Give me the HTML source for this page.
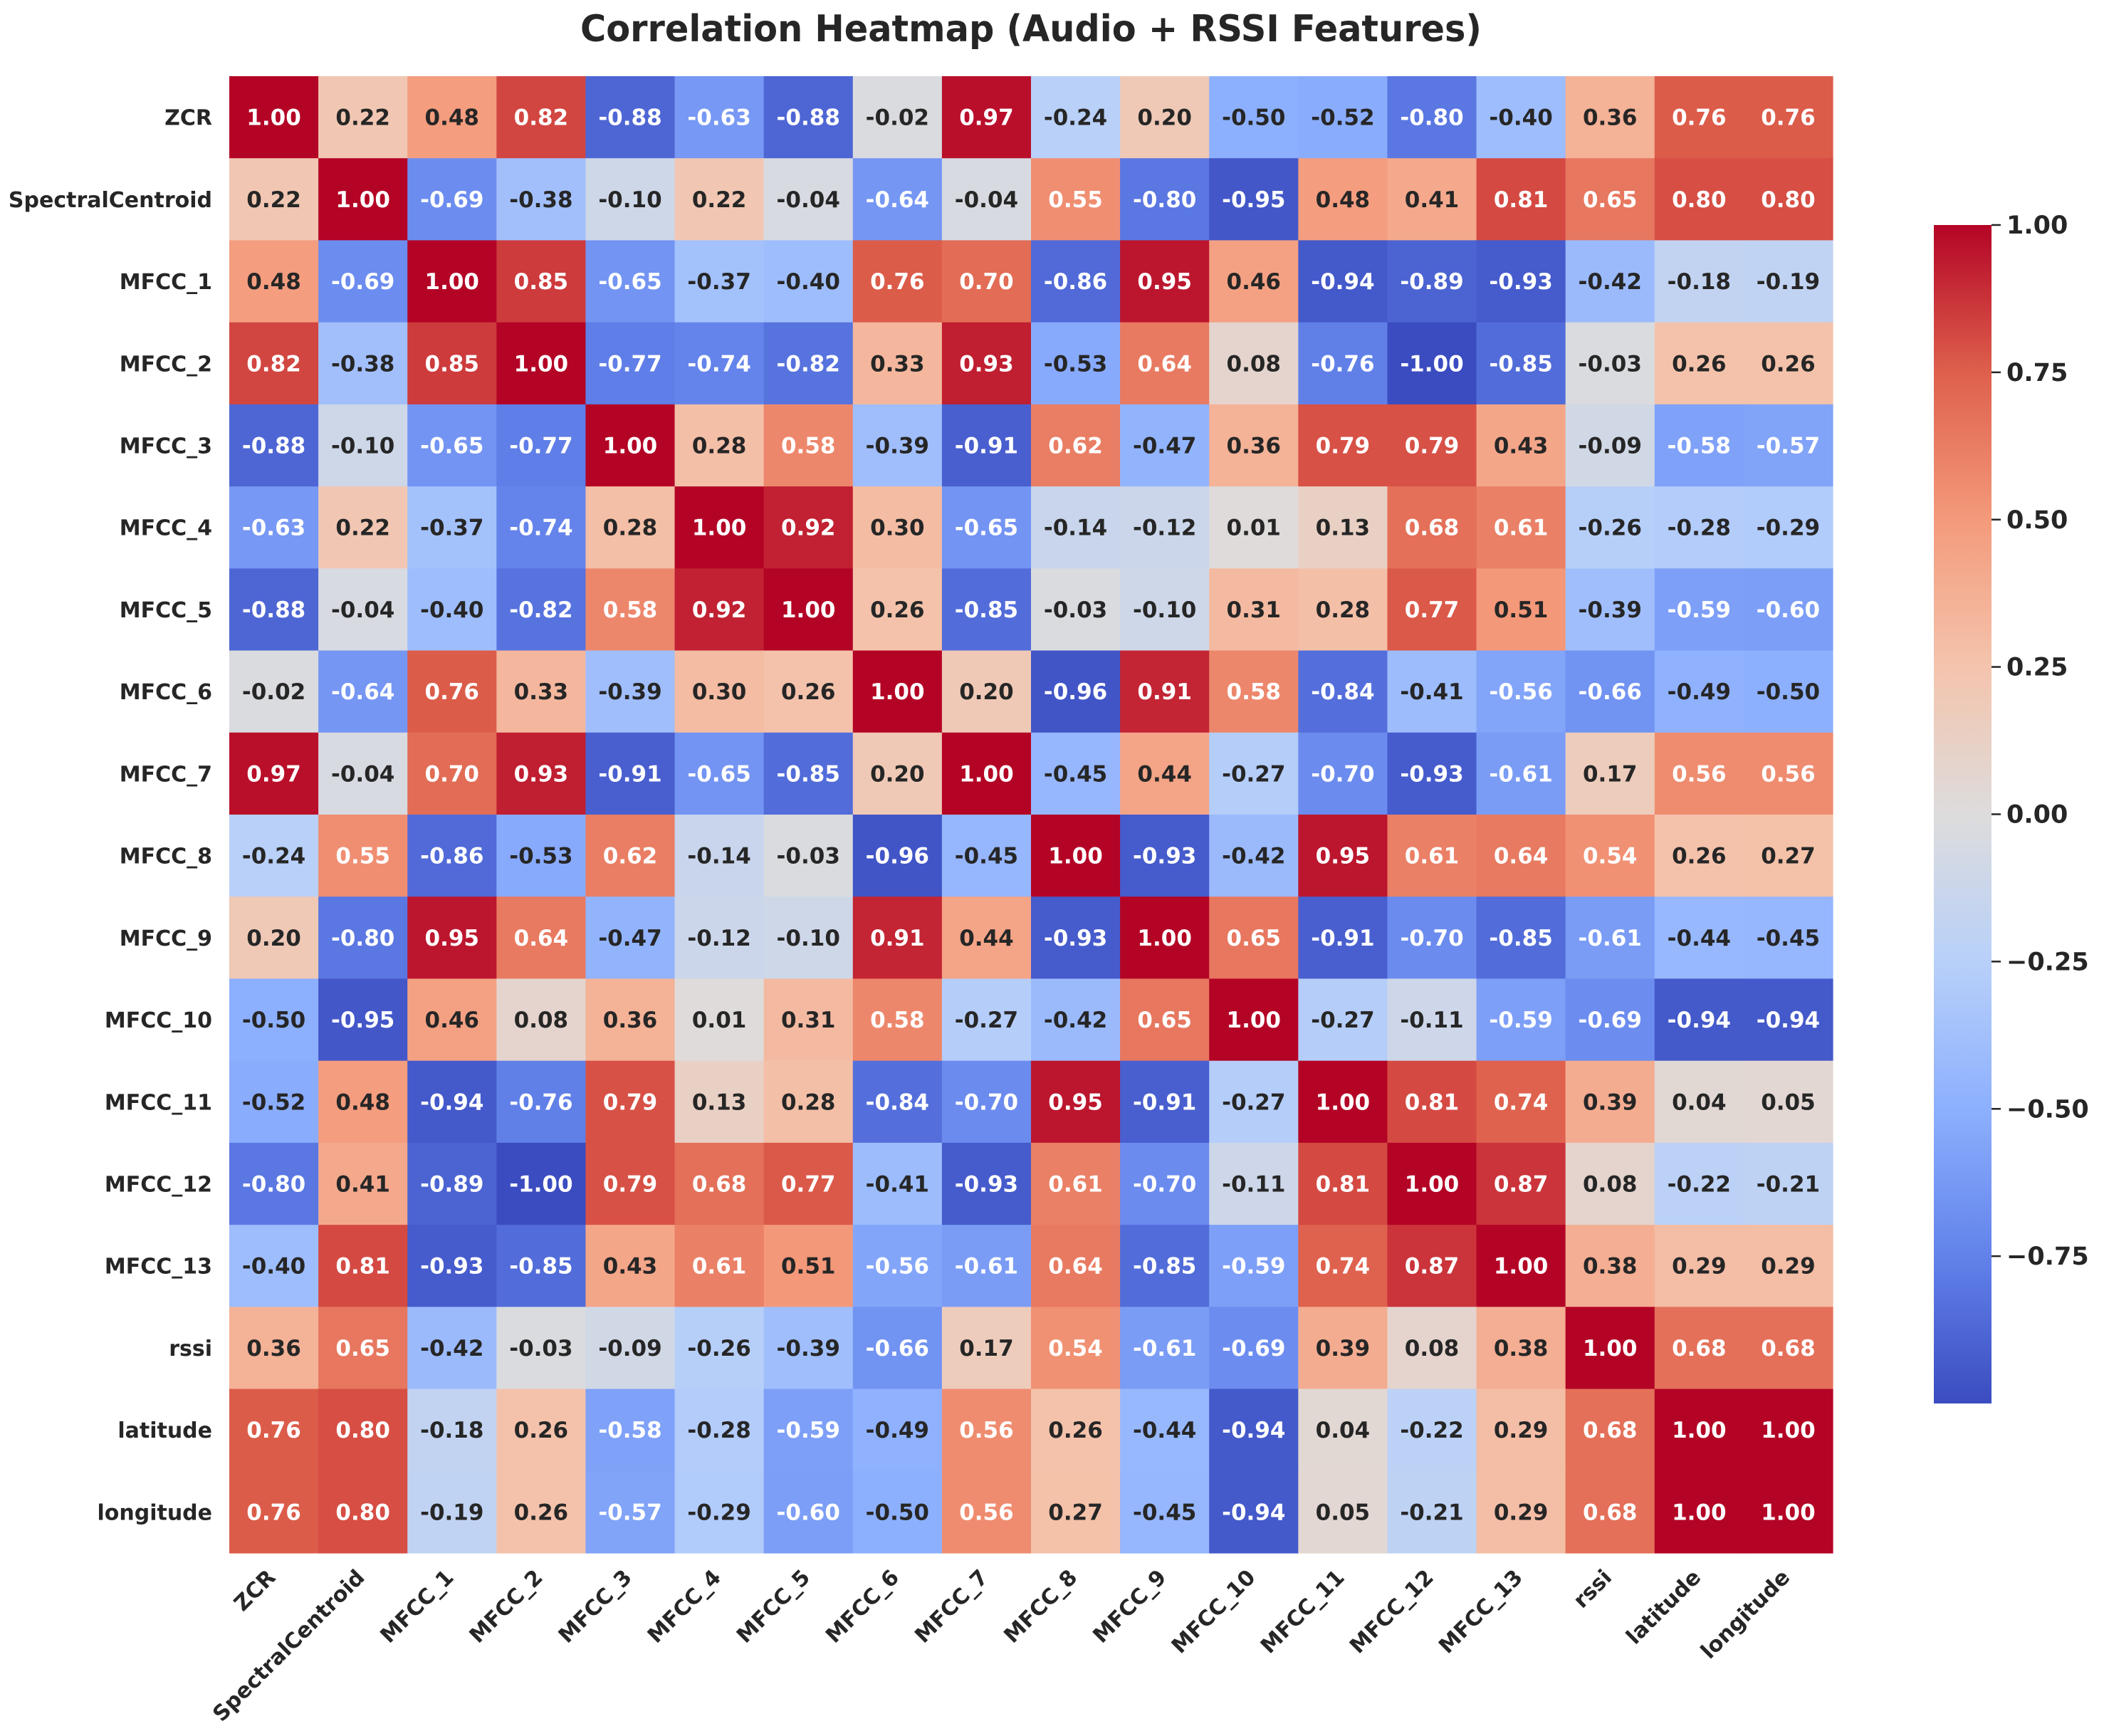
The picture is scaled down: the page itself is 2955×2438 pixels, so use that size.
<!DOCTYPE html>
<html><head><meta charset="utf-8">
<style>
html,body{margin:0;padding:0;background:#fff;}
svg{display:block;font-family:"DejaVu Sans","Liberation Sans",sans-serif;font-weight:bold;}
</style></head>
<body>
<svg id="chart" width="2955" height="2438" viewBox="0 0 2955 2438" xmlns="http://www.w3.org/2000/svg">
<rect width="2955" height="2438" fill="#fff"/>
<text x="1448" y="58" text-anchor="middle" font-size="52" fill="#262626" textLength="1266" lengthAdjust="spacingAndGlyphs">Correlation Heatmap (Audio + RSSI Features)</text>
<g id="cells"></g><g id="ylabels"></g><g id="xlabels"></g>
<defs><linearGradient id="cbgrad" x1="0" y1="1" x2="0" y2="0">
<stop offset="0" stop-color="rgb(59,76,192)"/><stop offset="0.125" stop-color="rgb(98,130,234)"/>
<stop offset="0.25" stop-color="rgb(141,176,254)"/><stop offset="0.375" stop-color="rgb(184,208,249)"/>
<stop offset="0.5" stop-color="rgb(221,220,220)"/><stop offset="0.625" stop-color="rgb(244,196,173)"/>
<stop offset="0.75" stop-color="rgb(244,154,123)"/><stop offset="0.875" stop-color="rgb(222,96,76)"/>
<stop offset="1" stop-color="rgb(180,4,38)"/></linearGradient></defs>
<rect x="2716" y="316" width="81" height="1655" fill="url(#cbgrad)"/>
<g id="cbticks"></g>
</svg>
<script>
const labels=["ZCR","SpectralCentroid","MFCC_1","MFCC_2","MFCC_3","MFCC_4","MFCC_5","MFCC_6","MFCC_7","MFCC_8","MFCC_9","MFCC_10","MFCC_11","MFCC_12","MFCC_13","rssi","latitude","longitude"];
const rowZCR=[1.00,0.22,0.48,0.82,-0.88,-0.63,-0.88,-0.02,0.97,-0.24,0.20,-0.50,-0.52,-0.80,-0.40,0.36,0.76,0.76];
const rowSC=[0.22,1.00,-0.69,-0.38,-0.10,0.22,-0.04,-0.64,-0.04,0.55,-0.80,-0.95,0.48,0.41,0.81,0.65,0.80,0.80];
const rowM1=[0.48,-0.69,1.00,0.85,-0.65,-0.37,-0.40,0.76,0.70,-0.86,0.95,0.46,-0.94,-0.89,-0.93,-0.42,-0.18,-0.19];
const rowM2=[0.82,-0.38,0.85,1.00,-0.77,-0.74,-0.82,0.33,0.93,-0.53,0.64,0.08,-0.76,-1.00,-0.85,-0.03,0.26,0.26];
const rowM3=[-0.88,-0.10,-0.65,-0.77,1.00,0.28,0.58,-0.39,-0.91,0.62,-0.47,0.36,0.79,0.79,0.43,-0.09,-0.58,-0.57];
const rowM4=[-0.63,0.22,-0.37,-0.74,0.28,1.00,0.92,0.30,-0.65,-0.14,-0.12,0.01,0.13,0.68,0.61,-0.26,-0.28,-0.29];
const rowM5=[-0.88,-0.04,-0.40,-0.82,0.58,0.92,1.00,0.26,-0.85,-0.03,-0.10,0.31,0.28,0.77,0.51,-0.39,-0.59,-0.60];
const rowM6=[-0.02,-0.64,0.76,0.33,-0.39,0.30,0.26,1.00,0.20,-0.96,0.91,0.58,-0.84,-0.41,-0.56,-0.66,-0.49,-0.50];
const rowM7=[0.97,-0.04,0.70,0.93,-0.91,-0.65,-0.85,0.20,1.00,-0.45,0.44,-0.27,-0.70,-0.93,-0.61,0.17,0.56,0.56];
const rowM8=[-0.24,0.55,-0.86,-0.53,0.62,-0.14,-0.03,-0.96,-0.45,1.00,-0.93,-0.42,0.95,0.61,0.64,0.54,0.26,0.27];
const rowM9=[0.20,-0.80,0.95,0.64,-0.47,-0.12,-0.10,0.91,0.44,-0.93,1.00,0.65,-0.91,-0.70,-0.85,-0.61,-0.44,-0.45];
const rowM10=[-0.50,-0.95,0.46,0.08,0.36,0.01,0.31,0.58,-0.27,-0.42,0.65,1.00,-0.27,-0.11,-0.59,-0.69,-0.94,-0.94];
const rowM11=[-0.52,0.48,-0.94,-0.76,0.79,0.13,0.28,-0.84,-0.70,0.95,-0.91,-0.27,1.00,0.81,0.74,0.39,0.04,0.05];
const rowM12=[-0.80,0.41,-0.89,-1.00,0.79,0.68,0.77,-0.41,-0.93,0.61,-0.70,-0.11,0.81,1.00,0.87,0.08,-0.22,-0.21];
const rowM13=[-0.40,0.81,-0.93,-0.85,0.43,0.61,0.51,-0.56,-0.61,0.64,-0.85,-0.59,0.74,0.87,1.00,0.38,0.29,0.29];
const rowRSSI=[0.36,0.65,-0.42,-0.03,-0.09,-0.26,-0.39,-0.66,0.17,0.54,-0.61,-0.69,0.39,0.08,0.38,1.00,0.68,0.68];
const rowLat=[0.76,0.80,-0.18,0.26,-0.58,-0.28,-0.59,-0.49,0.56,0.26,-0.44,-0.94,0.04,-0.22,0.29,0.68,1.00,1.00];
const rowLon=[0.76,0.80,-0.19,0.26,-0.57,-0.29,-0.60,-0.50,0.56,0.27,-0.45,-0.94,0.05,-0.21,0.29,0.68,1.00,1.00];
const matrix=[rowZCR,rowSC,rowM1,rowM2,rowM3,rowM4,rowM5,rowM6,rowM7,rowM8,rowM9,rowM10,rowM11,rowM12,rowM13,rowRSSI,rowLat,rowLon];
const cbTicks=[1.00,0.75,0.50,0.25,0.00,-0.25,-0.50,-0.75];

const NS="http://www.w3.org/2000/svg";
const X0=322,X1=2574,Y0=107,Y1=2181,VMIN=-1,VMAX=1;
const n=labels.length,cw=(X1-X0)/n,ch=(Y1-Y0)/n;
const xPos=i=>X0+i*cw, yPos=i=>Y0+i*ch;
const cbTop=316,cbBot=1971;
const cbY=v=>cbBot-(v-VMIN)/(VMAX-VMIN)*(cbBot-cbTop);
const stops=[[59,76,192],[98,130,234],[141,176,254],[184,208,249],[221,220,220],[244,196,173],[244,154,123],[222,96,76],[180,4,38]];
function cmap(v){let t=(v-VMIN)/(VMAX-VMIN);t=Math.max(0,Math.min(1,t));const s=t*(stops.length-1);const i=Math.min(stops.length-2,Math.floor(s));const f=s-i;return stops[i].map((c,k)=>c+(stops[i+1][k]-c)*f);}
function lum(c){const l=c.map(x=>{x/=255;return x<=0.03928?x/12.92:Math.pow((x+0.055)/1.055,2.4)});return 0.2126*l[0]+0.7152*l[1]+0.0722*l[2];}
function mk(tag,attrs,parent){const e=document.createElementNS(NS,tag);for(const k in attrs)e.setAttribute(k,attrs[k]);parent.appendChild(e);return e;}
const gc=document.getElementById('cells'),gy=document.getElementById('ylabels'),gx=document.getElementById('xlabels'),gt=document.getElementById('cbticks');
for(let r=0;r<n;r++){for(let c=0;c<n;c++){const v=matrix[r][c];const col=cmap(v);
const rect=mk('rect',{x:xPos(c),y:yPos(r),width:cw+0.6,height:ch+0.6,fill:`rgb(${col.map(Math.round).join(',')})`},gc);


const t=mk('text',{x:xPos(c)+cw/2,y:yPos(r)+ch/2+11,'text-anchor':'middle','font-size':31,fill:lum(col)>0.408?'#262626':'#ffffff'},gc);
t.textContent=v.toFixed(2);

}}
labels.forEach((l,i)=>{
const t=mk('text',{x:298,y:yPos(i)+ch/2+11,'text-anchor':'end','font-size':30,fill:'#262626'},gy);t.textContent=l;


const cx=xPos(i)+cw/2+4,cy=Y1+36;
const u=mk('text',{x:cx,y:cy,'text-anchor':'end','font-size':30,fill:'#262626',transform:`rotate(-45 ${cx} ${cy})`},gx);u.textContent=l;

});
cbTicks.forEach(v=>{const y=cbY(v);
const ln=mk('line',{x1:2797,x2:2810,y1:y,y2:y,stroke:'#262626','stroke-width':2.5},gt);


const t=mk('text',{x:2818,y:y+12,'font-size':35,fill:'#262626'},gt);t.textContent=(v<0?'\u2212'+Math.abs(v).toFixed(2):v.toFixed(2));

});
</script>
</body></html>
